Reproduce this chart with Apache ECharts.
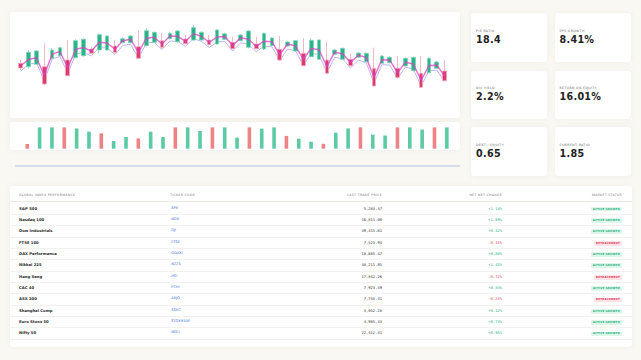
<!DOCTYPE html>
<html>
<head>
<meta charset="utf-8">
<script src="https://cdn.jsdelivr.net/npm/echarts@6/dist/echarts.min.js"></script>
<style>
body{margin:0;width:641px;height:360px;background:#faf8f3;font-family:"DejaVu Sans",sans-serif;position:relative;overflow:hidden}
.card{position:absolute;background:#fff;border-radius:3px;box-shadow:0 0 5px rgba(170,160,140,0.12)}
#chart{position:absolute;left:0;top:0;width:470px;height:180px;z-index:2}
.rule{position:absolute;left:15px;top:165px;width:445px;height:1.5px;background:#d6dcec}
.kpi .lbl{position:absolute;left:5px;font-size:3.2px;letter-spacing:0.35px;color:#666;text-transform:uppercase}
.kpi .val{position:absolute;left:5px;font-size:9.6px;font-weight:bold;color:#222;letter-spacing:0.3px}
.row{position:absolute;left:10px;width:622px;height:11.35px;border-bottom:0.5px solid #f3f1ed;z-index:3}
.row > span{position:absolute;top:0;line-height:11.35px;white-space:nowrap}
.hd > span{font-size:3.2px;letter-spacing:0.3px;color:#777}
.nm{left:9px;font-size:3.8px;font-weight:bold;color:#2a2a2a}
.tk{left:160px;font-size:3.6px;color:#3d6fd6}
.pr{right:250px;font-family:"DejaVu Sans Mono",monospace;font-size:3.8px;color:#333}
.ch{right:130px;font-family:"DejaVu Sans Mono",monospace;font-size:3.8px}
.st{right:10px}
.badge{display:inline-block;font-size:2.7px;letter-spacing:0.15px;font-weight:bold;padding:0.9px 2px;line-height:3px;border-radius:1px;vertical-align:middle}
</style>
</head>
<body>
<div class="card" style="left:10px;top:12px;width:450px;height:106px"></div>
<div class="card" style="left:10px;top:122px;width:450px;height:28px"></div>
<div class="rule"></div>
<div id="kpis"></div>
<div class="card" style="left:10px;top:186px;width:622px;height:161px"></div>
<div id="table"></div>
<div id="chart"></div>
<script>
// candles: open / close / low / high
const candleOpen = [4967,4933,4957,4933,5017,5043,5000,5023,5043,5110,5100,5100,5140,5173,5173,5133,5143,5177,5193,5213,5183,5210,5200,5200,5200,5160,5207,5177,5193,5127,5160,5110,5143,5107,5140,5090,5067,5033,5007,5000,5057,5007,5007,5027,4983,4917,4967,4973,4917,4940,4893,4867,4873,4917,4890]
const candleClose = [4920,5077,5090,4760,5100,5123,4843,5193,5207,5067,5253,5240,5077,5213,5240,5017,5293,5277,5127,5267,5290,5163,5323,5277,5153,5300,5263,5113,5250,5290,5113,5267,5220,5000,5180,5193,4943,5197,5200,4867,5100,5117,4943,5070,5067,4740,5040,5027,4827,5017,5027,4727,5017,4980,4793]
const candleLow = [4900,4917,4950,4750,5007,5033,4840,5017,5033,5060,5067,5093,5067,5167,5167,5013,5133,5167,5117,5207,5173,5157,5193,5193,5147,5157,5200,5107,5187,5117,5107,5100,5137,4993,5133,5083,4940,5027,5000,4860,5050,5000,4937,5020,4977,4733,4960,4967,4820,4933,4887,4720,4867,4910,4787]
const candleHigh = [5000,5100,5100,5167,5117,5133,5200,5207,5217,5133,5267,5250,5200,5227,5250,5293,5317,5283,5267,5277,5300,5250,5350,5287,5250,5307,5273,5233,5260,5300,5233,5273,5230,5240,5190,5200,5217,5217,5207,5183,5110,5123,5067,5080,5077,5123,5050,5037,5040,5027,5033,5040,5027,4990,5000]
const maFast = [4943,5005,5023,4847,5058,5083,4922,5108,5125,5088,5177,5170,5108,5193,5207,5075,5218,5227,5160,5240,5237,5187,5262,5238,5177,5230,5235,5145,5222,5208,5137,5188,5182,5053,5160,5142,5005,5115,5103,4933,5078,5062,4975,5048,5025,4828,5003,5000,4872,4978,4960,4797,4945,4948,4842]
const maSlow = [4890,4955,4975,4790,5010,5035,4865,5060,5075,5040,5125,5120,5055,5145,5157,5015,5170,5177,5105,5190,5187,5135,5212,5188,5125,5180,5185,5090,5172,5158,5082,5138,5132,4995,5110,5092,4945,5065,5053,4875,5028,5012,4920,4998,4975,4768,4953,4950,4815,4928,4910,4740,4895,4898,4785]

// volume panel
const volume = [22,100,100,100,95,80,72,36,55,48,80,55,100,100,83,100,100,52,100,94,100,60,47,33,23,75,95,100,66,62,100,100,90,100,100]
const volumeUp = [0,1,1,0,1,1,0,1,1,0,1,1,0,1,1,0,1,1,0,1,1,0,1,1,0,1,1,0,1,1,0,1,1,0,1]

// kpi tiles
const kpiLabels = ['P/E Ratio','EPS Growth','Div Yield','Return on Equity','Debt / Equity','Current Ratio']
const kpiValues = ['18.4','8.41%','2.2%','16.01%','0.65','1.85']

// table
const tableHeaders = ['Global Index Performance','Ticker Code','Last Trade Price','Net Net Change','Market Status']
const indexNames = ['S&P 500','Nasdaq 100','Dow Industrials','FTSE 100','DAX Performance','Nikkei 225','Hang Seng','CAC 40','ASX 200','Shanghai Comp','Euro Stoxx 50','Nifty 50']
const tickers = ['.SPX','.NDX','.DJI','.FTSE','.GDAXI','.N225','.HSI','.FCHI','.AXJO','.SSEC','.STOXX50E','.NSEI']
const prices = ['5,283.37','16,811.00','39,415.61','7,523.94','18,685.47','38,211.05','17,842.26','7,923.49','7,743.41','3,052.28','4,985.43','22,412.41']
const changes = ['+1.14%','+1.69%','+0.42%','-0.13%','+0.88%','+1.45%','-0.72%','+0.33%','-0.24%','+0.12%','+0.73%','+0.95%']

const GREEN = '#2bb48a', RED = '#de3a74'

// kpi cards
const kpiBox = document.getElementById('kpis')
const kpiX = [471, 554.5], kpiY = [13, 70.5, 127]
kpiLabels.forEach((l, i) => {
  const d = document.createElement('div')
  d.className = 'card kpi'
  d.style.cssText = `left:${kpiX[i % 2]}px;top:${kpiY[Math.floor(i / 2)]}px;width:76px;height:48.5px`
  d.innerHTML = `<div class="lbl" style="top:15.5px">${l}</div><div class="val" style="top:20.5px">${kpiValues[i]}</div>`
  kpiBox.appendChild(d)
})

// table rows
const tbl = document.getElementById('table')
let html = `<div class="row hd" style="top:189.5px;border-bottom:0.6px solid #ebe8e2">
  <span style="left:9px">${tableHeaders[0].toUpperCase()}</span>
  <span style="left:160px">${tableHeaders[1].toUpperCase()}</span>
  <span style="right:250px">${tableHeaders[2].toUpperCase()}</span>
  <span style="right:130px">${tableHeaders[3].toUpperCase()}</span>
  <span style="right:10px">${tableHeaders[4].toUpperCase()}</span></div>`
indexNames.forEach((n, i) => {
  const up = changes[i][0] === '+'
  const badge = up
    ? `<span class="badge" style="background:#dcf6ea;color:#27b07f">ACTIVE GROWTH</span>`
    : `<span class="badge" style="background:#fde3e6;color:#e0405a">RETRACEMENT</span>`
  html += `<div class="row" style="top:${202.6 + i * 11.35}px">
    <span class="nm">${n}</span><span class="tk">${tickers[i]}</span>
    <span class="pr">${prices[i]}</span>
    <span class="ch" style="color:${up ? '#27b07f' : '#e0405a'}">${changes[i]}</span>
    <span class="st">${badge}</span></div>`
})
tbl.innerHTML = html

const chart = echarts.init(document.getElementById('chart'), null, {renderer: 'canvas'})
chart.setOption({
  animation: false,
  backgroundColor: 'transparent',
  grid: [
    {left: 16.8, top: 20, width: 431.8, height: 80},
    {left: 21.1, top: 127.4, width: 431.9, height: 21.3}
  ],
  xAxis: [
    {type: 'category', gridIndex: 0, data: candleOpen.map((_, i) => i + 1), show: false},
    {type: 'category', gridIndex: 1, data: volume.map((_, i) => i + 1), show: false}
  ],
  yAxis: [
    {type: 'value', gridIndex: 0, min: 4600, max: 5400, show: false},
    {type: 'value', gridIndex: 1, min: 0, max: 100, show: false}
  ],
  series: [
    {
      type: 'line', data: maSlow, xAxisIndex: 0, yAxisIndex: 0,
      symbol: 'none', z: 1,
      lineStyle: {color: '#bdb6f0', width: 1}
    },
    {
      type: 'candlestick', xAxisIndex: 0, yAxisIndex: 0, z: 2,
      barWidth: 4.2,
      data: candleOpen.map((o, i) => [o, candleClose[i], candleLow[i], candleHigh[i]]),
      itemStyle: {color: GREEN, color0: RED, borderColor: '#7fd3b6', borderColor0: '#eda7b7', borderWidth: 0.8}
    },
    {
      type: 'line', data: maFast, xAxisIndex: 0, yAxisIndex: 0,
      symbol: 'none', z: 3,
      lineStyle: {color: '#dc3fbf', width: 1.4, opacity: 0.75}
    },
    {
      type: 'bar', xAxisIndex: 1, yAxisIndex: 1, barWidth: 3.6,
      data: volume.map((v, i) => ({value: v, itemStyle: {color: volumeUp[i] ? '#5ccaa2' : '#ee8385'}}))
    }
  ]
})
</script>
</body>
</html>
